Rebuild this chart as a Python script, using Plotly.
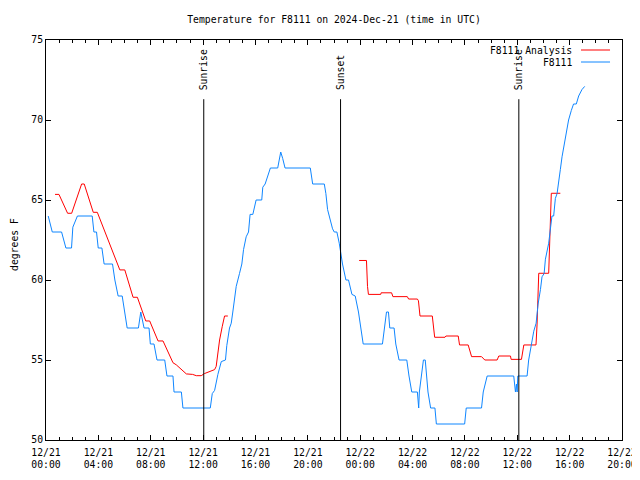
import plotly.graph_objects as go

# ---------------- data (hours since 2024-12-21 00:00 UTC, deg F) ----------------
obs_hours = [0.17, 0.48, 1.19, 1.52, 1.95, 2.05, 2.40, 3.53, 3.66, 3.86, 3.99, 4.27, 4.44,
             5.08, 5.26, 5.51, 5.82, 6.02, 6.20, 7.06, 7.24, 7.49, 7.87, 7.97, 8.25, 8.48,
             9.07, 9.24, 9.70, 9.78, 10.34, 10.46, 12.55, 12.70, 12.88, 13.13, 13.39, 13.71,
             13.81, 14.02, 14.15, 14.27, 14.40, 14.53, 14.78, 14.96, 15.09, 15.29, 15.47,
             15.59, 15.80, 15.92, 16.05, 16.48, 16.56, 16.74, 16.94, 17.14, 17.70, 17.83,
             17.93, 18.08, 18.26, 20.19, 20.37, 21.26, 21.38, 21.51, 21.69, 21.89, 22.02,
             22.22, 22.40, 22.65, 22.91, 23.11, 23.37, 23.62, 23.87, 24.05, 24.23, 25.70,
             25.83, 26.01, 26.16, 26.26, 26.59, 26.72, 26.97, 27.56, 27.73, 27.94, 28.37,
             28.47, 28.52, 28.67, 28.83, 28.97, 29.05, 29.18, 29.38, 29.71, 29.82, 31.98,
             32.10, 33.27, 33.40, 33.57, 33.70, 35.73, 35.86, 35.94, 35.99, 36.04, 36.75,
             36.87, 37.08, 37.26, 37.44, 37.59, 37.77, 37.89, 38.05, 38.15, 38.40, 38.53,
             38.65, 38.78, 38.91, 39.04, 39.16, 39.29, 39.42, 39.54, 39.72, 39.92, 40.13,
             40.30, 40.51, 40.69, 40.94, 41.15]
obs_temps = [64, 63, 63, 62, 62, 63.3, 64, 64, 63, 63, 62, 62, 61,
             61, 60, 59, 59, 58, 57, 57, 58, 57, 57, 56, 56, 55,
             55, 54, 54, 53, 53, 52, 52, 52.9, 53.1, 54.1, 54.9, 55,
             55.9, 57, 57.3, 58, 58.7, 59.6, 60.4, 61, 61.9, 62.7, 63,
             64.1, 64.1, 64.6, 65, 65, 65.8, 66, 66.5, 67, 67, 67.5,
             68, 67.6, 67, 67, 66, 66, 65.4, 64.4, 63.8, 63.2, 63,
             63, 62.3, 61, 60, 60, 59.1, 59, 58, 57, 56, 56,
             57, 58, 58, 57, 57, 56, 55, 55, 54, 53, 53,
             52, 53, 54, 55, 55, 54, 53, 52, 52, 51, 51,
             52, 52, 53, 53.5, 54, 54, 53, 53.5, 53, 54, 54,
             55, 56, 56.8, 57.3, 58.5, 59.4, 60.2, 60.4, 61.3, 62.3, 63.1,
             64, 64, 65.1, 65.4, 66, 66.9, 67.7, 68.3, 69.2, 70, 70.6,
             71, 71, 71.5, 71.9, 72.1]

ana1_hours = [0.69, 0.99, 1.65, 1.96, 2.72, 2.92, 3.61, 3.92, 5.64, 6.02, 6.65, 6.98,
              7.62, 7.92, 8.56, 8.94, 9.70, 9.95, 10.72, 11.20, 11.48, 11.86, 12.10,
              12.88, 13.00, 13.26, 13.46, 13.64, 13.89]
ana1_temps = [65.35, 65.35, 64.17, 64.17, 66.0, 66.0, 64.23, 64.23, 60.63, 60.63, 58.92, 58.92,
              57.44, 57.44, 56.19, 56.19, 54.83, 54.7, 54.13, 54.1, 54.02, 54.02, 54.15,
              54.4, 54.6, 56.25, 57.08, 57.75, 57.75]
ana2_hours = [23.92, 24.48, 24.56, 24.63, 25.57, 25.60, 26.40, 26.50, 27.60, 27.70, 28.37,
              28.45, 28.57, 29.51, 29.69, 30.48, 30.55, 31.49, 31.59, 32.25, 32.51, 33.27,
              33.52, 34.46, 34.59, 35.48, 35.53, 36.32, 36.50, 37.43, 37.51, 37.59, 37.64,
              38.40, 38.45, 38.53, 38.60, 39.29]
ana2_temps = [61.22, 61.22, 59.6, 59.1, 59.1, 59.2, 59.2, 58.96, 58.96, 58.81, 58.81,
              58.7, 57.75, 57.75, 56.42, 56.42, 56.5, 56.5, 55.94, 55.94, 55.21, 55.21,
              55.0, 55.0, 55.25, 55.25, 55.04, 55.04, 55.94, 55.94, 57.19, 59.69, 60.42,
              60.42, 61.67, 63.75, 65.42, 65.42]

sun_hours = [12.05, 22.5, 36.12]
sun_labels = ["Sunrise", "Sunset", "Sunrise"]

tick_hours = [0, 4, 8, 12, 16, 20, 24, 28, 32, 36, 40, 44]
tick_labels = ["12/21<br>00:00", "12/21<br>04:00", "12/21<br>08:00", "12/21<br>12:00",
               "12/21<br>16:00", "12/21<br>20:00", "12/22<br>00:00", "12/22<br>04:00",
               "12/22<br>08:00", "12/22<br>12:00", "12/22<br>16:00", "12/22<br>20:00"]

series_names = ["F8111 Analysis", "F8111"]
series_colors = ["#ff0000", "#0f86ff"]

FONT = "DejaVu Sans Mono"
FS = 9.75

# page body has an 8px default margin: size the figure so it fills the 640x480 window
W, H = 632, 472

fig = go.Figure()
fig.add_trace(go.Scatter(x=ana1_hours + [None] + ana2_hours,
                         y=ana1_temps + [None] + ana2_temps,
                         mode="lines", name=series_names[0],
                         line=dict(color=series_colors[0], width=1),
                         connectgaps=False))
fig.add_trace(go.Scatter(x=obs_hours, y=obs_temps, mode="lines", name=series_names[1],
                         line=dict(color=series_colors[1], width=1)))

shapes = []
annotations = []
for h, lab in zip(sun_hours, sun_labels):
    shapes.append(dict(type="line", xref="x", yref="y", x0=h, x1=h, y0=50, y1=71.3,
                       line=dict(color="black", width=1)))
    annotations.append(dict(x=h, y=71.75, xref="x", yref="y", text=lab, showarrow=False,
                            textangle=-90, xanchor="center", yanchor="bottom",
                            font=dict(family=FONT, size=FS, color="black")))

# gnuplot-style key: text on the left, line sample on the right
key_y = [0.975, 0.945]
for name, col, ky in zip(series_names, series_colors, key_y):
    annotations.append(dict(x=0.9167, y=ky, xref="paper", yref="paper", text=name,
                            showarrow=False, xanchor="right", yanchor="middle",
                            font=dict(family=FONT, size=FS, color="black")))
    shapes.append(dict(type="line", xref="paper", yref="paper", x0=0.9288, x1=0.9792,
                       y0=ky, y1=ky, line=dict(color=col, width=1)))

annotations.append(dict(x=-0.0556, y=0.49, xref="paper", yref="paper", text="degrees F",
                        showarrow=False, textangle=-90, xanchor="center", yanchor="middle",
                        font=dict(family=FONT, size=FS, color="black")))

fig.update_layout(
    width=W, height=H, autosize=False,
    margin=dict(l=38, r=18, t=32, b=40, pad=0, autoexpand=False),
    plot_bgcolor="white", paper_bgcolor="white",
    showlegend=False,
    font=dict(family=FONT, size=FS, color="black"),
    title=dict(text="Temperature for F8111 on 2024-Dec-21 (time in UTC)",
               x=0.5, xref="paper", xanchor="center",
               y=1 - 12 / H, yref="container", yanchor="middle",
               automargin=False,
               font=dict(family=FONT, size=FS, color="black")),
    shapes=shapes, annotations=annotations,
)
fig.update_xaxes(range=[0, 44], tickmode="array", tickvals=tick_hours, ticktext=tick_labels,
                 ticks="inside", ticklen=5, tickcolor="black", tickwidth=1,
                 showline=True, linecolor="black", linewidth=1, mirror="allticks",
                 showgrid=False, zeroline=False, automargin=False, ticklabelstandoff=3,
                 minor=dict(tick0=0, dtick=1, ticks="inside", ticklen=3,
                            tickcolor="black", showgrid=False),
                 tickfont=dict(family=FONT, size=FS, color="black"))
fig.update_yaxes(range=[50, 75], tickmode="array", tickvals=[50, 55, 60, 65, 70, 75],
                 ticks="inside", ticklen=5, tickcolor="black", tickwidth=1,
                 showline=True, linecolor="black", linewidth=1, mirror="allticks",
                 showgrid=False, zeroline=False, automargin=False,
                 tickfont=dict(family=FONT, size=FS, color="black"))

fig.write_html("out.html")
